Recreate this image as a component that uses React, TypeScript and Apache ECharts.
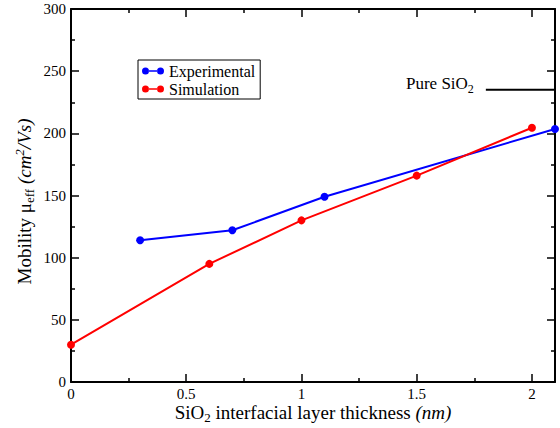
import React, { useEffect, useRef } from "react";
import * as echarts from "echarts";

const expX = [0.3, 0.7, 1.1, 2.1];
const expY = [114, 122, 149, 203.5];
const simX = [0, 0.6, 1.0, 1.5, 2.0];
const simY = [30, 95, 130, 166, 204.5];
const pureX = [1.8, 2.1];
const pureY = [235, 235];
const xMajor = [0, 0.5, 1, 1.5, 2];
const xMinor = [0.25, 0.75, 1.25, 1.75];

const FF = "'Liberation Serif', 'DejaVu Serif', serif";

const legendIcon =
  "path://M0,3.5A3.5,3.5 0 1,0 7,3.5A3.5,3.5 0 1,0 0,3.5Z M6.8,2.75H15.2V4.25H6.8Z M15,3.5A3.5,3.5 0 1,0 22,3.5A3.5,3.5 0 1,0 15,3.5Z";

const titleRich = {
  n: { fontSize: 19, fontFamily: FF, color: "#000", lineHeight: 20 },
  i: { fontSize: 19, fontFamily: FF, color: "#000", lineHeight: 20, fontStyle: "italic" },
  sub: { fontSize: 13, fontFamily: FF, color: "#000", verticalAlign: "middle", padding: [10, 0, 0, 0] },
  sup: { fontSize: 13, fontFamily: FF, color: "#000", verticalAlign: "top", fontStyle: "italic" },
};

function xAxisDef(position: string, ticks: number[], len: number, line: boolean, labels: boolean, extra: any = {}) {
  return {
    type: "value",
    position,
    min: 0,
    max: 2.1,
    interval: 0.5,
    axisLine: { show: line, onZero: false, lineStyle: { color: "#000", width: 2 } },
    axisTick: { show: true, inside: true, length: len, customValues: ticks, lineStyle: { color: "#000", width: 1.5 } },
    axisLabel: labels
      ? { show: true, customValues: ticks, margin: 4, fontSize: 15, fontFamily: FF, color: "#000" }
      : { show: false },
    splitLine: { show: false },
    ...extra,
  };
}

function yAxisDef(position: string, labels: boolean, extra: any = {}) {
  return {
    type: "value",
    position,
    min: 0,
    max: 300,
    interval: 50,
    axisLine: { show: true, onZero: false, lineStyle: { color: "#000", width: 2 } },
    axisTick: { show: true, inside: true, length: 8, lineStyle: { color: "#000", width: 1.5 } },
    minorTick: { show: true, splitNumber: 2, length: 4, lineStyle: { color: "#000", width: 1.5 } },
    axisLabel: labels
      ? { show: true, margin: 5, fontSize: 15, fontFamily: FF, color: "#000" }
      : { show: false },
    splitLine: { show: false },
    ...extra,
  };
}

export default function App() {
  const ref = useRef<HTMLDivElement>(null);
  useEffect(() => {
    if (!ref.current) return;
    const chart = echarts.init(ref.current, null, { renderer: "svg" });
    chart.setOption({
      animation: false,
      backgroundColor: "#fff",
      grid: { left: 71, right: 5, top: 9, bottom: 46, outerBoundsMode: "none", containLabel: false },
      legend: {
        orient: "vertical",
        left: 138,
        top: 60,
        data: ["Experimental", "Simulation"],
        icon: legendIcon,
        itemWidth: 22,
        itemHeight: 7,
        itemGap: 2,
        padding: [3, 5, 2, 4],
        borderColor: "#000",
        borderWidth: 1,
        borderRadius: 0,
        backgroundColor: "#fff",
        textStyle: { fontSize: 16, fontFamily: FF, color: "#000" },
      },
      xAxis: [
        xAxisDef("bottom", xMajor, 8, true, true, {
          name: "{n|SiO}{sub|2}{n| interfacial layer thickness }{i|(nm)}",
          nameLocation: "middle",
          nameGap: 19,
          nameMoveOverlap: false,
          nameTextStyle: { rich: titleRich },
        }),
        xAxisDef("bottom", xMinor, 4, false, false),
        xAxisDef("top", xMajor, 8, true, false),
        xAxisDef("top", xMinor, 4, false, false),
      ],
      yAxis: [
        yAxisDef("left", true, {
          name: "{n|Mobility μ}{sub|eff}{i| (cm}{sup|2}{i|/Vs)}",
          nameLocation: "middle",
          nameGap: 35.5,
          nameMoveOverlap: false,
          nameTextStyle: { rich: titleRich, padding: [0, 12, 0, 0] },
        }),
        yAxisDef("right", false),
      ],
      series: [
        {
          name: "Experimental",
          type: "line",
          xAxisIndex: 0,
          yAxisIndex: 0,
          data: expX.map((x, i) => [x, expY[i]]),
          color: "#0000ff",
          lineStyle: { width: 2, color: "#0000ff" },
          itemStyle: { color: "#0000ff" },
          symbol: "circle",
          symbolSize: 8,
          showSymbol: true,
          clip: false,
        },
        {
          name: "Simulation",
          type: "line",
          xAxisIndex: 0,
          yAxisIndex: 0,
          data: simX.map((x, i) => [x, simY[i]]),
          color: "#ff0000",
          lineStyle: { width: 2, color: "#ff0000" },
          itemStyle: { color: "#ff0000" },
          symbol: "circle",
          symbolSize: 8,
          showSymbol: true,
          clip: false,
        },
        {
          name: "Pure SiO2",
          type: "line",
          xAxisIndex: 0,
          yAxisIndex: 0,
          data: pureX.map((x, i) =>
            i === 0
              ? {
                  value: [x, pureY[i]],
                  label: {
                    show: true,
                    position: "left",
                    distance: 12,
                    offset: [0, -6],
                    formatter: "{n|Pure SiO}{sub|2}",
                    rich: {
                      n: { fontSize: 17, fontFamily: FF, color: "#000", lineHeight: 22 },
                      sub: { fontSize: 12, fontFamily: FF, color: "#000", verticalAlign: "bottom" },
                    },
                  },
                }
              : { value: [x, pureY[i]] }
          ),
          color: "#000",
          lineStyle: { width: 2, color: "#000" },
          symbol: "circle",
          symbolSize: 0,
          showSymbol: true,
          clip: false,
          silent: true,
        },
      ],
    });
    return () => chart.dispose();
  }, []);
  return (
    <div
      ref={ref}
      style={{ position: "fixed", left: 0, top: 0, width: 560, height: 428, background: "#fff" }}
    />
  );
}
